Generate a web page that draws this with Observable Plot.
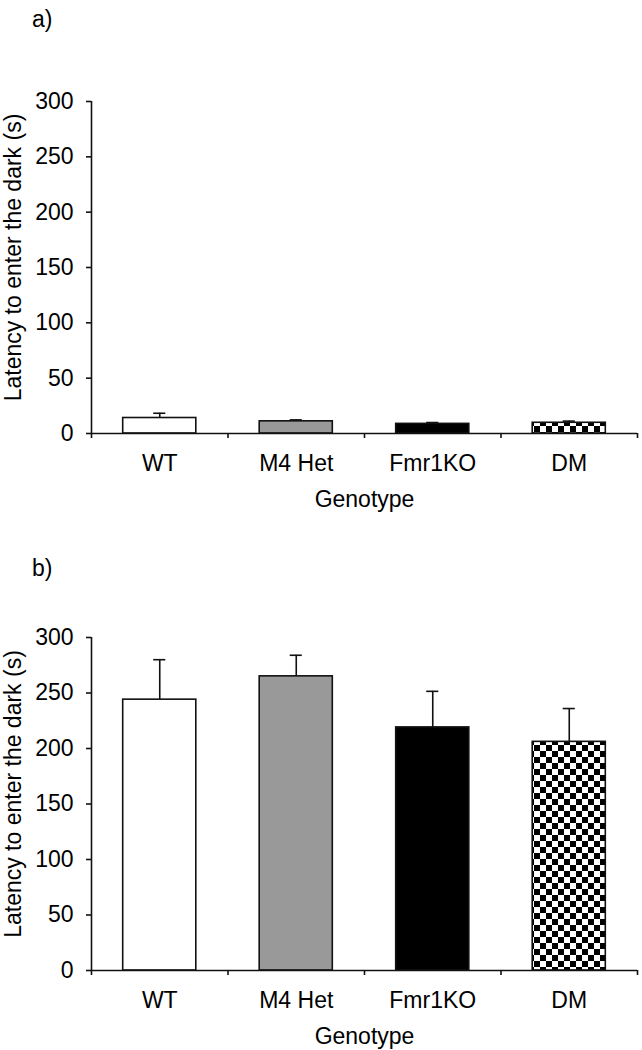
<!DOCTYPE html>
<html><head><meta charset="utf-8">
<script src="https://cdn.jsdelivr.net/npm/d3@7"></script>
<script src="https://cdn.jsdelivr.net/npm/@observablehq/plot@0.6"></script>
<style>
body{margin:0;background:#fff;font-family:"Liberation Sans",Arial,sans-serif;}
#wrap{position:relative;width:642px;height:1050px;overflow:hidden;background:#fff}
.panel{position:absolute;left:0}
.tag{position:absolute;left:32px;font-size:23px;line-height:23px;color:#000}
</style></head><body>
<div id="wrap"></div>
<script>
// ---- data ----
const genotypes = ["WT", "M4 Het", "Fmr1KO", "DM"];
const yDomain = [0, 300];
const yTicks = [0, 50, 100, 150, 200, 250, 300];
// panel a)
const meansA = [14, 11, 8.7, 9.7];
const errsA  = [4.3, 1.3, 1.2, 1.5];
// panel b)
const meansB = [244, 265, 219, 206];
const errsB  = [36, 19, 32.5, 30];

const yLabel = "Latency to enter the dark (s)";
const xLabel = "Genotype";

const wrap = document.getElementById("wrap");

function makePanel(tag, means, errs, top, height, marginTop, marginBottom) {
  const pid = "checker-" + tag;
  const fills = ["#ffffff", "#999999", "#000000", `url(#${pid})`];
  const data = genotypes.map((g, i) => ({i, g, mean: means[i], top: means[i] + errs[i]}));
  const ink = "#111";
  const sw = 1.6;
  const svg = Plot.plot({
    width: 642, height,
    marginLeft: 91, marginRight: 5, marginTop, marginBottom,
    style: {fontFamily: "'Liberation Sans', Arial, sans-serif", fontSize: "23px", color: "#000", background: "transparent", overflow: "visible"},
    x: {domain: [0, genotypes.length], axis: null},
    y: {domain: yDomain, axis: null},
    color: {domain: genotypes, range: fills},
    marks: [
      Plot.ruleX(data, {x: d => d.i + 0.5, y1: "mean", y2: "top", stroke: ink, strokeWidth: sw}),
      Plot.ruleY(data, {y: "top", x1: "i", x2: d => d.i + 1, insetLeft: 62.2, insetRight: 62.2, stroke: ink, strokeWidth: sw}),
      Plot.rectY(data, {x1: "i", x2: d => d.i + 1, y1: 0, y2: "mean", fill: "g", stroke: ink, strokeWidth: sw, insetLeft: 31.7, insetRight: 31.7}),
      Plot.ruleX([0], {stroke: ink, strokeWidth: sw}),
      Plot.ruleY([0], {stroke: ink, strokeWidth: sw}),
      Plot.axisY({ticks: yTicks, tickSize: 5, tickPadding: 13, label: null, tickFormat: d3.format("d"), stroke: ink, strokeWidth: sw}),
      Plot.axisX({ticks: d3.range(genotypes.length + 1), tickSize: 5, tickFormat: () => "", label: null, stroke: ink, strokeWidth: sw}),
      Plot.text(data, {x: d => d.i + 0.5, text: "g", frameAnchor: "bottom", dy: 30, lineAnchor: "middle", fill: "#000"}),
      Plot.text([xLabel], {frameAnchor: "bottom", dy: 66, lineAnchor: "middle", fill: "#000"}),
      Plot.text([yLabel], {x: () => 0, y: () => d3.mean(yDomain), rotate: -90, dx: -78, dy: -10, lineAnchor: "middle", textAnchor: "middle", fill: "#000"})
    ]
  });
  const defs = d3.select(svg).insert("defs", ":first-child");
  const p = defs.append("pattern").attr("id", pid).attr("patternUnits", "userSpaceOnUse").attr("width", 12).attr("height", 12);
  p.append("rect").attr("width", 12).attr("height", 12).attr("fill", "#fff");
  p.append("rect").attr("width", 6).attr("height", 6).attr("fill", "#000");
  p.append("rect").attr("x", 6).attr("y", 6).attr("width", 6).attr("height", 6).attr("fill", "#000");
  svg.classList.add("panel");
  svg.style.top = top + "px";
  wrap.appendChild(svg);
}

makePanel("a", meansA, errsA, 0, 535, 101, 102);
makePanel("b", meansB, errsB, 535, 515, 102, 80);

const ta = document.createElement("div"); ta.className = "tag"; ta.style.top = "8px"; ta.textContent = "a)"; wrap.appendChild(ta);
const tb = document.createElement("div"); tb.className = "tag"; tb.style.top = "557px"; tb.textContent = "b)"; wrap.appendChild(tb);
</script>
</body></html>
